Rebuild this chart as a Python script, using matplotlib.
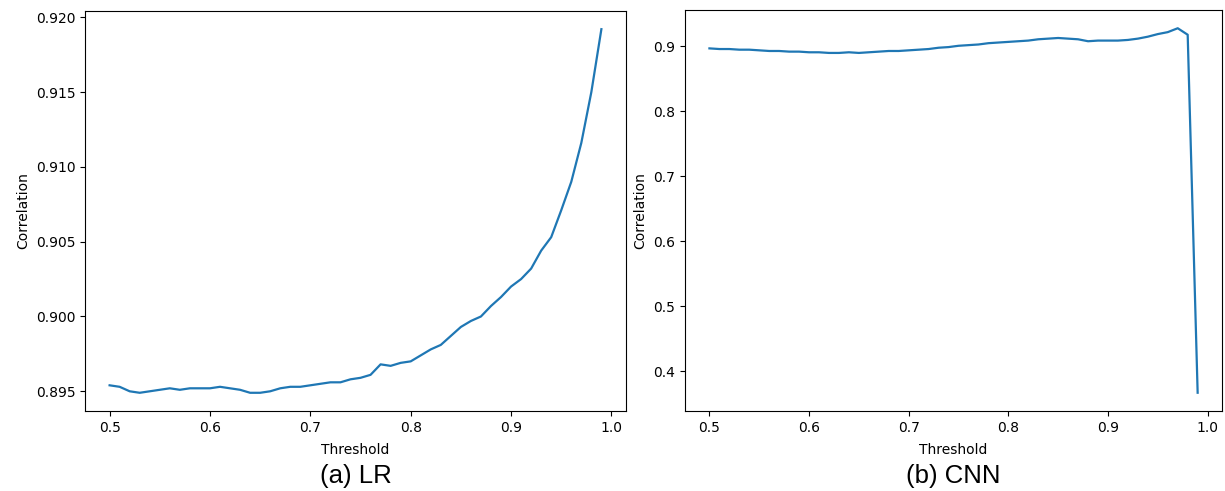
import numpy as np
import matplotlib
matplotlib.use("Agg")
import matplotlib.pyplot as plt

# thresholds 0.50 .. 0.99
thresholds = [round(0.50 + 0.01 * i, 2) for i in range(50)]

# (a) LR
lr_corr = [
    0.8954, 0.8953, 0.8950, 0.8949, 0.8950, 0.8951, 0.8952, 0.8951, 0.8952, 0.8952,
    0.8952, 0.8953, 0.8952, 0.8951, 0.8949, 0.8949, 0.8950, 0.8952, 0.8953, 0.8953,
    0.8954, 0.8955, 0.8956, 0.8956, 0.8958, 0.8959, 0.8961, 0.8968, 0.8967, 0.8969,
    0.8970, 0.8974, 0.8978, 0.8981, 0.8987, 0.8993, 0.8997, 0.9000, 0.9007, 0.9013,
    0.9020, 0.9025, 0.9032, 0.9044, 0.9053, 0.9071, 0.9090, 0.9116, 0.9150, 0.9192,
]

# (b) CNN
cnn_corr = [
    0.897, 0.896, 0.896, 0.895, 0.895, 0.894, 0.893, 0.893, 0.892, 0.892,
    0.891, 0.891, 0.890, 0.890, 0.891, 0.890, 0.891, 0.892, 0.893, 0.893,
    0.894, 0.895, 0.896, 0.898, 0.899, 0.901, 0.902, 0.903, 0.905, 0.906,
    0.907, 0.908, 0.909, 0.911, 0.912, 0.913, 0.912, 0.911, 0.908, 0.909,
    0.909, 0.909, 0.910, 0.912, 0.915, 0.919, 0.922, 0.928, 0.918, 0.367,
]

captions = ["(a) LR", "(b) CNN"]

fig = plt.figure(figsize=(12.25, 4.91), dpi=100)
ax1 = fig.add_axes([0.0694, 0.163, 0.4416, 0.8146])
ax2 = fig.add_axes([0.5592, 0.163, 0.4384, 0.8166])

for ax, vals, cap in zip([ax1, ax2], [lr_corr, cnn_corr], captions):
    ax.plot(thresholds, vals, color="#1f77b4", linewidth=1.6)
    ax.set_xticks([0.5, 0.6, 0.7, 0.8, 0.9, 1.0])
    ax.set_xlabel("Threshold", fontsize=10, labelpad=6)
    ax.set_ylabel("Correlation", fontsize=10, labelpad=4)
    ax.tick_params(labelsize=10)
    # caption under each panel
    ax.text(0.5, -0.162, cap, transform=ax.transAxes, ha="center", va="center",
            fontsize=18.5, family=["Liberation Sans", "DejaVu Sans"])

ax1.set_yticks([0.895, 0.900, 0.905, 0.910, 0.915, 0.920])
ax1.yaxis.set_major_formatter(matplotlib.ticker.FormatStrFormatter("%.3f"))
ax2.set_yticks([0.4, 0.5, 0.6, 0.7, 0.8, 0.9])

fig.savefig("out.png", dpi=100)
